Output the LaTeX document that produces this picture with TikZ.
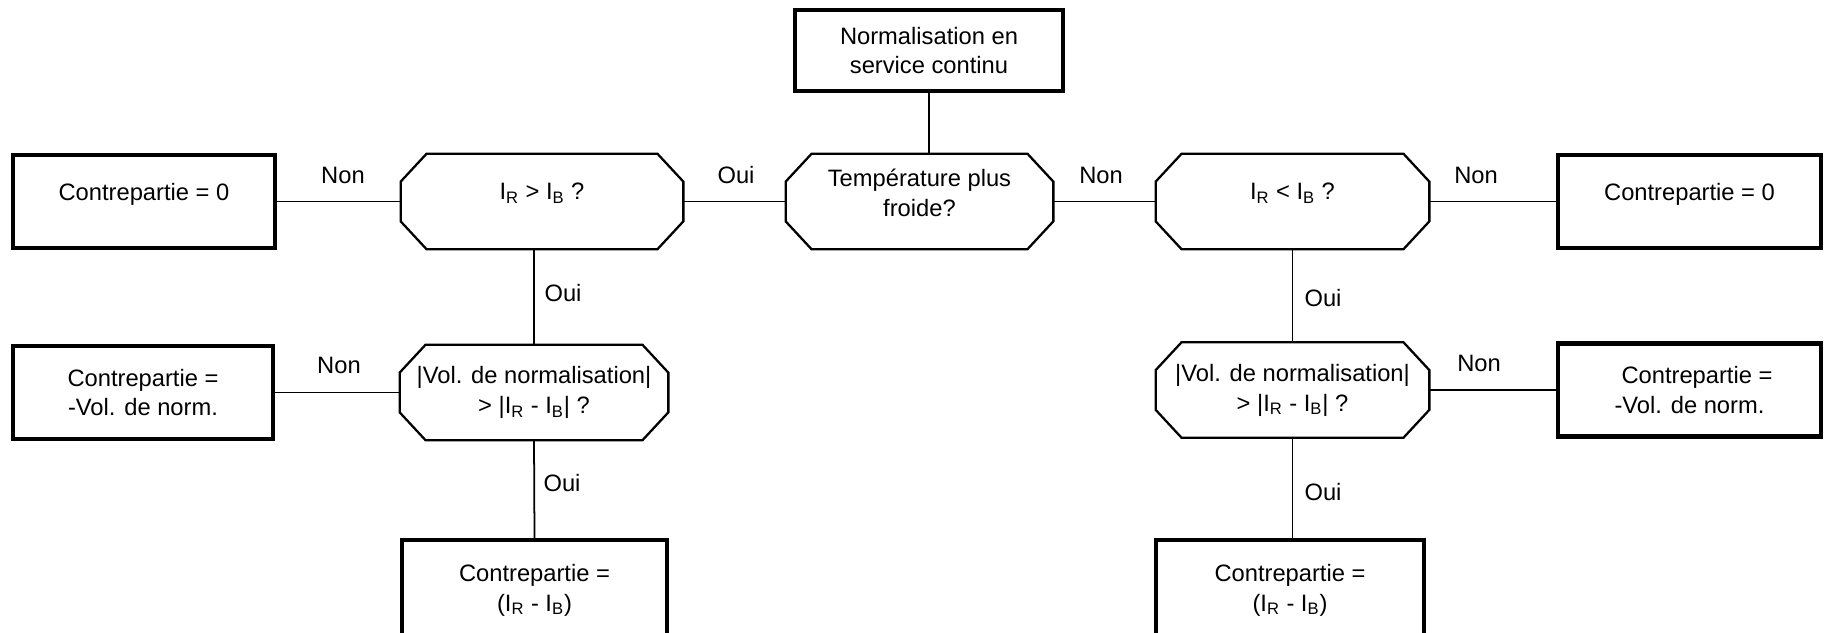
\documentclass[tikz,border=0pt]{standalone}
\usepackage{fontspec}
\setmainfont{Liberation Sans}
\usetikzlibrary{calc}

\begin{document}
\begin{tikzpicture}[
  every node/.style={font=\fontsize{13.5}{17}\selectfont},
  result/.style={draw, line width=2.3pt, align=center, minimum width=5.26cm, minimum height=1.86cm},
  question/.style={align=center, minimum width=5.4cm, minimum height=1.9cm},
  link/.style={line width=1pt}
]

\useasboundingbox (0,0) rectangle (36.48,12.64);

% Define centres of the upper row
\coordinate (N) at (18.58, 11.63);
\coordinate (T) at (18.39, 8.61);
\coordinate (P) at (10.84, 8.61);
\coordinate (Q) at (25.85, 8.61);
\coordinate (A) at (2.88, 8.61);
\coordinate (B) at (33.79, 8.61);

% Centres of the lower rows
\coordinate (C) at (2.86, 4.79);
\coordinate (L) at (10.68, 4.79);
\coordinate (R) at (25.85, 4.84);
\coordinate (D) at (33.79, 4.84);
\coordinate (E) at (10.69, 0.84);
\coordinate (F) at (25.8, 0.84);

% Boxes and questions
\node[result, minimum width=5.36cm, minimum height=1.62cm] (norm) at (N) {Normalisation en\\service continu};
\node[question, minimum width=5.34cm] (froid) at (T) {Température plus\\froide?\\[-0.25cm]};
\node[question, minimum width=5.64cm] (testL) at (P) {I\textsubscript{R} > I\textsubscript{B} ?\\[-0.2cm]};
\node[question, minimum width=5.46cm] (testR) at (Q) {I\textsubscript{R} < I\textsubscript{B} ?\\[-0.2cm]};
\node[result, minimum width=5.24cm] (zeroL) at (A) {Contrepartie = 0\\[-0.2cm]};
\node[result] (zeroR) at (B) {Contrepartie = 0\\[-0.2cm]};

\node[result, minimum width=5.2cm] (negL) at (C) {Contrepartie =\\-Vol. de norm.};
\node[question, minimum width=5.36cm] (volL) at (L) {|Vol. de normalisation|\\> |I\textsubscript{R} - I\textsubscript{B}| ?};
\node[question, minimum width=5.46cm] (volR) at (R) {|Vol. de normalisation|\\> |I\textsubscript{R} - I\textsubscript{B}| ?};
\node[result] (negR) at (D) {\hspace{0.3cm}Contrepartie =\\-Vol. de norm.};

\node[result, minimum width=5.3cm, minimum height=2cm] (diffL) at (E) {Contrepartie =\\(I\textsubscript{R} - I\textsubscript{B})};
\node[result, minimum width=5.36cm, minimum height=2cm] (diffR) at (F) {Contrepartie =\\(I\textsubscript{R} - I\textsubscript{B})};

% Octagon outline round each question
\foreach \q in {froid, testL, testR, volL, volR}
  \draw[line width=1.3pt] ($(\q.north west)+(0.52,0)$) -- ($(\q.north east)+(-0.52,0)$)
    -- ($(\q.north east)+(0,-0.56)$) -- ($(\q.south east)+(0,0.56)$)
    -- ($(\q.south east)+(-0.52,0)$) -- ($(\q.south west)+(0.52,0)$)
    -- ($(\q.south west)+(0,0.56)$) -- ($(\q.north west)+(0,-0.56)$) -- cycle;

% Connectors
\draw[link] (norm.south) -- (norm.south |- froid.north);
\draw[link] (froid.west) -- (testL.east);
\draw[link] (froid.east) -- (testR.west);
\draw[link] (testL.west) -- (zeroL.east);
\draw[link] (testR.east) -- (zeroR.west);
\draw[link] (testL.south -| volL.north) -- (volL.north);
\draw[link] (testR.south) -- (volR.north);
\draw[link] (volL.west) -- (negL.east);
\draw[link] (volR.east) -- (negR.west);
\draw[link] (volL.south) -- (diffL.north);
\draw[link] (volR.south) -- (volR.south |- diffR.north);

% Labels for the answers
\node (non1) at (6.86, 9.14) {Non};
\node (oui1) at (14.72, 9.14) {Oui};
\node (non2) at (22.02, 9.14) {Non};
\node (non3) at (29.52, 9.14) {Non};
\node (oui2) at (11.26, 6.78) {Oui};
\node (oui3) at (26.46, 6.68) {Oui};
\node (non4) at (6.78, 5.34) {Non};
\node (non5) at (29.58, 5.38) {Non};
\node (oui4) at (11.24, 2.98) {Oui};
\node (oui5) at (26.46, 2.80) {Oui};

\end{tikzpicture}
\end{document}
